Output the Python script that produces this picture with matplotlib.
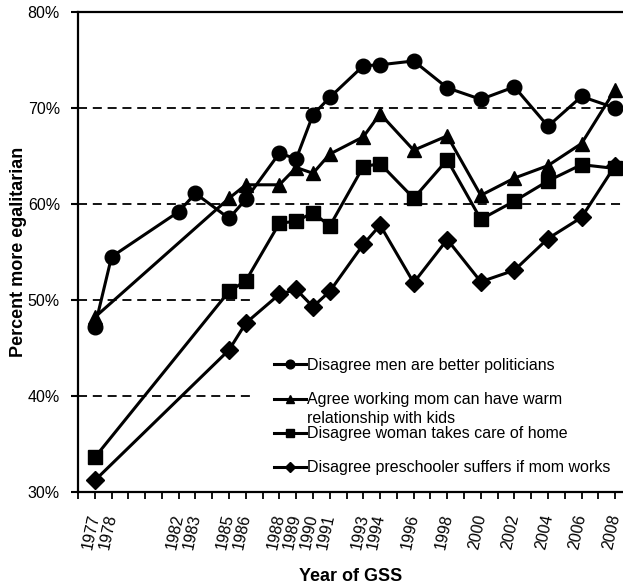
import matplotlib
matplotlib.use("Agg")
import matplotlib.pyplot as plt

plt.rcParams['font.family'] = ['Liberation Sans', 'DejaVu Sans']

years = [1977, 1978, 1982, 1983, 1985, 1986, 1988, 1989, 1990, 1991,
         1993, 1994, 1996, 1998, 2000, 2002, 2004, 2006, 2008]

# Disagree men are better politicians
pol_years = [1977, 1978, 1982, 1983, 1985, 1986, 1988, 1989, 1990, 1991,
             1993, 1994, 1996, 1998, 2000, 2002, 2004, 2006, 2008]
pol_vals = [47.2, 54.5, 59.2, 61.1, 58.5, 60.5, 65.3, 64.7, 69.3, 71.1,
            74.4, 74.5, 74.9, 72.1, 70.9, 72.2, 68.1, 71.2, 70.0]

# Agree working mom can have warm relationship with kids
warm_years = [1977, 1985, 1986, 1988, 1989, 1990, 1991, 1993, 1994, 1996,
              1998, 2000, 2002, 2004, 2006, 2008]
warm_vals = [48.2, 60.6, 62.0, 62.0, 63.8, 63.2, 65.2, 67.0, 69.4, 65.6,
             67.1, 60.9, 62.7, 64.0, 66.3, 71.9]

# Disagree woman takes care of home
home_years = [1977, 1985, 1986, 1988, 1989, 1990, 1991, 1993, 1994, 1996,
              1998, 2000, 2002, 2004, 2006, 2008]
home_vals = [33.6, 50.9, 52.0, 58.0, 58.2, 59.1, 57.7, 63.9, 64.2, 60.6,
             64.6, 58.4, 60.3, 62.4, 64.1, 63.7]

# Disagree preschooler suffers if mom works
pre_years = [1977, 1985, 1986, 1988, 1989, 1990, 1991, 1993, 1994, 1996,
             1998, 2000, 2002, 2004, 2006, 2008]
pre_vals = [31.2, 44.8, 47.6, 50.6, 51.1, 49.3, 50.9, 55.8, 57.8, 51.8,
            56.3, 51.9, 53.1, 56.4, 58.6, 64.0]

labels = ["Disagree men are better politicians",
          "Agree working mom can have warm",
          "Disagree woman takes care of home",
          "Disagree preschooler suffers if mom works"]
label2_extra = "relationship with kids"

y_ticks = [30, 40, 50, 60, 70, 80]

fig = plt.figure(figsize=(6.23, 5.87), dpi=100)
ax = fig.add_axes([78 / 623, 95 / 587, 545.5 / 623, 480 / 587])

lw = 2.2
h1, = ax.plot(pol_years, pol_vals, color='black', lw=lw, marker='o', ms=10.5, zorder=3)
h2, = ax.plot(warm_years, warm_vals, color='black', lw=lw, marker='^', ms=10.5, zorder=3)
h3, = ax.plot(home_years, home_vals, color='black', lw=lw, marker='s', ms=9.5, zorder=3)
h4, = ax.plot(pre_years, pre_vals, color='black', lw=lw, marker='D', ms=8.8, zorder=3)

ax.set_xlim(1976, 2008.5)
ax.set_ylim(30, 80)

# dashed reference lines
gx = (253 - 78) / 545.5
for yv in [40, 50]:
    ax.axhline(yv, xmin=0, xmax=gx, color='black', lw=1.3, ls=(0, (5, 3.2)), zorder=1)
for yv in [60, 70]:
    ax.axhline(yv, color='black', lw=1.3, ls=(0, (5, 3.2)), zorder=1)

ax.spines['right'].set_visible(False)
for s in ['top', 'left', 'bottom']:
    ax.spines[s].set_linewidth(1.6)

ax.set_yticks(y_ticks)
ax.set_yticklabels([f"{v}%" for v in y_ticks], fontsize=11.5)
ax.tick_params(axis='y', length=5, width=1.5, pad=8)

all_years = list(range(1976, 2009))
ax.set_xticks(all_years)
ax.set_xticklabels([str(y) if y in years else "" for y in all_years],
                   fontsize=11.5, rotation=78, rotation_mode='anchor',
                   ha='right', va='center')
ax.tick_params(axis='x', length=5, width=1.3, pad=11)

ax.set_xlabel("Year of GSS", fontsize=13, fontweight='bold')
ax.xaxis.set_label_coords(0.5, -0.158)
ax.set_ylabel("Percent more egalitarian", fontsize=13, fontweight='bold')
ax.yaxis.set_label_coords(-0.093, 0.5)

leg = ax.legend([h1, h2, h3, h4], labels, loc='upper left',
                bbox_to_anchor=(266 / 623, 1 - 350 / 587),
                bbox_transform=fig.transFigure, frameon=False,
                fontsize=11.5, handlelength=2.0, handletextpad=0.05,
                labelspacing=1.2, borderpad=0, markerscale=0.6)

fig.canvas.draw()
t2 = leg.get_texts()[1]
bb = t2.get_window_extent()
inv = fig.transFigure.inverted()
x0, yc = inv.transform((bb.x0, (bb.y0 + bb.y1) / 2))
fig.text(x0, yc - 18.5 / 587, label2_extra, fontsize=11.5, ha='left', va='center')

fig.savefig("out.png", dpi=100)
